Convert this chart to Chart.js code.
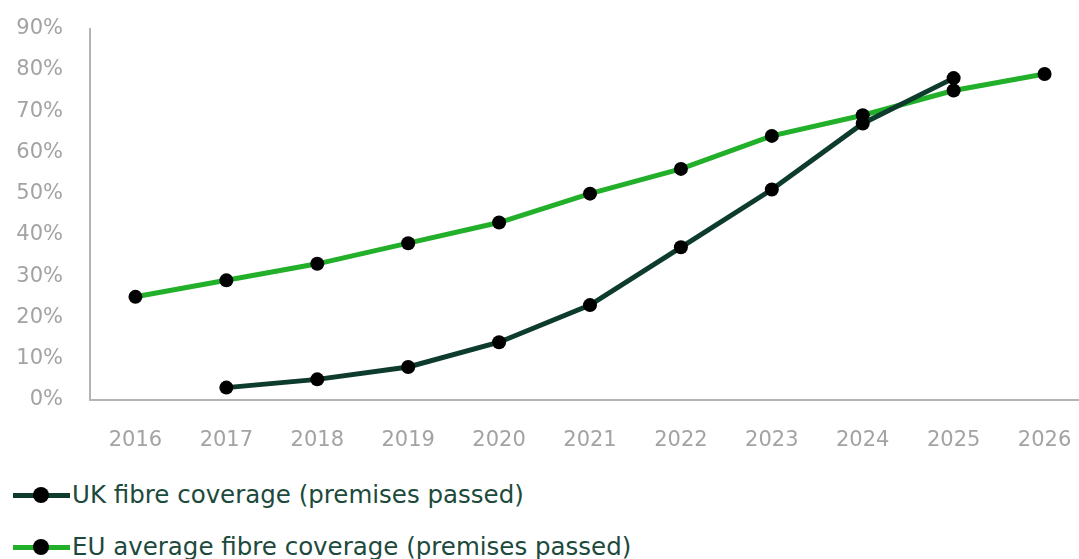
<!DOCTYPE html>
<html>
<head>
<meta charset="utf-8">
<script src="https://cdn.jsdelivr.net/npm/chart.js@4/dist/chart.umd.min.js"></script>
<style>
    body { margin: 0; width: 1079px; height: 559px; overflow: hidden; background: #fff; font-family: "DejaVu Sans", sans-serif; }
    #wrap { position: absolute; left: 0; top: -3px; width: 1097px; height: 475px; }
    .legend { position: absolute; left: 13px; color: #1d4a3c; font-size: 24.5px; display: flex; align-items: center; white-space: nowrap; }
    .legend .sym { position: relative; width: 57px; height: 20px; margin-right: 2px; }
    .legend .sym .ln { position: absolute; left: 0; right: 0; top: 8px; height: 5px; }
    .legend .sym .dot { position: absolute; left: 20px; top: 2px; width: 16px; height: 16px; border-radius: 50%; background: #000; }
</style>
</head>
<body>
<div id="wrap"><canvas id="coverage" width="1097" height="475"></canvas></div>
<div class="legend" style="top:480px"><div class="sym"><div class="ln" style="background:#0d3b2e"></div><div class="dot"></div></div>UK fibre coverage (premises passed)</div>
<div class="legend" style="top:532px"><div class="sym"><div class="ln" style="background:#22b02a"></div><div class="dot"></div></div>EU average fibre coverage (premises passed)</div>
<script>
const years = ['2016', '2017', '2018', '2019', '2020', '2021', '2022', '2023', '2024', '2025', '2026'];
const ukCoverage = [null, 3, 5, 8, 14, 23, 37, 51, 67, 78, null];
const euCoverage = [25, 29, 33, 38, 43, 50, 56, 64, 69, 75, 79];

const tickFont = { family: 'DejaVu Sans', size: 21 };

new Chart(document.getElementById('coverage').getContext('2d'), {
    type: 'line',
    data: {
        labels: years,
        datasets: [
            {
                label: 'UK fibre coverage (premises passed)',
                data: ukCoverage,
                borderColor: '#0d3b2e',
                borderWidth: 5,
                pointRadius: 7,
                pointBackgroundColor: '#000',
                pointBorderWidth: 0,
                tension: 0
            },
            {
                label: 'EU average fibre coverage (premises passed)',
                data: euCoverage,
                borderColor: '#22b02a',
                borderWidth: 5,
                pointRadius: 7,
                pointBackgroundColor: '#000',
                pointBorderWidth: 0,
                tension: 0
            }
        ]
    },
    options: {
        responsive: false,
        animation: false,
        layout: { padding: { top: 15, right: 0, left: 0, bottom: 0 } },
        plugins: { legend: { display: false }, tooltip: { enabled: false } },
        scales: {
            x: {
                offset: true,
                grid: { display: false },
                border: { display: true, color: '#b3b3b3', width: 2 },
                ticks: { color: '#a3a3a3', font: tickFont, padding: 20 },
                afterFit: axis => { axis.height = 72; }
            },
            y: {
                min: 0,
                max: 90,
                grid: { display: false },
                border: { display: true, color: '#b3b3b3', width: 2 },
                ticks: { stepSize: 10, color: '#a3a3a3', font: tickFont, padding: 19, callback: v => v + '%' },
                afterFit: axis => { axis.width = 90; }
            }
        }
    }
});
</script>
</body>
</html>
